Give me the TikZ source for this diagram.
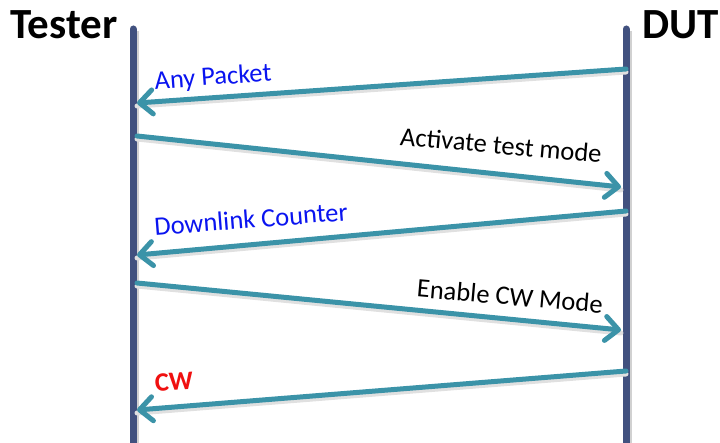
\documentclass[tikz,border=0pt]{standalone}
\usepackage{fontspec}
\setmainfont{Carlito}
\usetikzlibrary{arrows.meta}
\definecolor{lifec}{HTML}{41517F}
\definecolor{msgc}{HTML}{3B93A8}
\definecolor{lblblue}{HTML}{0A14F0}
\definecolor{lblred}{HTML}{F01010}
\tikzset{
  lifeline/.style={draw=lifec, line width=7pt, line cap=round},
  lifeshadow/.style={draw=black!18, line width=7pt},
  msg/.style={draw=msgc, line width=5pt, line cap=round, -{Straight Barb[length=13pt,width=24pt,round]}},
  msgshadow/.style={draw=black!12, line width=5pt, line cap=round},
  actor/.style={font=\bfseries\fontsize{43}{43}\selectfont, text=black, inner sep=0pt},
  lbl/.style={font=\fontsize{26.5}{26.5}\selectfont, inner sep=0pt},
}
\begin{document}
\begin{tikzpicture}[x=1pt,y=-1pt]
\useasboundingbox[fill=white] (0,0) rectangle (720,443);
% lifeline coordinates
\coordinate (T0) at (133,29);
\coordinate (T1) at (133,450);
\coordinate (D0) at (626,29);
\coordinate (D1) at (626,450);
% actors
\node[actor, anchor=base west] (tester) at (10,39) {Tester};
\node[actor, anchor=base east] (dut) at (719,39) {DUT};
% lifeline shadows and lifelines
\draw[lifeshadow] ([xshift=2pt,yshift=-2pt]T0) -- ([xshift=2pt]T1);
\draw[lifeshadow] ([xshift=2pt,yshift=-2pt]D0) -- ([xshift=2pt]D1);
\draw[lifeline] (T0) -- (T1);
\draw[lifeline] (D0) -- (D1);
% message endpoints
\coordinate (m1s) at (626,69);  \coordinate (m1e) at (137,103);
\coordinate (m2s) at (137,136); \coordinate (m2e) at (621,187);
\coordinate (m3s) at (626,211); \coordinate (m3e) at (137,255);
\coordinate (m4s) at (137,283); \coordinate (m4e) at (621,330);
\coordinate (m5s) at (626,371); \coordinate (m5e) at (137,410);
% shadows
\foreach \a/\b in {m1s/m1e,m2s/m2e,m3s/m3e,m4s/m4e,m5s/m5e}
  \draw[msgshadow] ([yshift=-3pt]\a) -- ([yshift=-3pt]\b);
% messages
\draw[msg] (m1s) -- (m1e);
\draw[msg] (m2s) -- (m2e);
\draw[msg] (m3s) -- (m3e);
\draw[msg] (m4s) -- (m4e);
\draw[msg] (m5s) -- (m5e);
% labels
\node[lbl, text=lblblue, rotate=4] (l1) at (213,78) {Any Packet};
\node[lbl, text=black, rotate=-5] (l2) at (501,145) {Activate test mode};
\node[lbl, text=lblblue, rotate=4.5] (l3) at (251,219) {Downlink Counter};
\node[lbl, text=black, rotate=-5] (l4) at (510,296) {Enable CW Mode};
\node[lbl, text=lblred, font=\bfseries\fontsize{26.5}{26.5}\selectfont, rotate=3] (l5) at (174,382) {CW};
\end{tikzpicture}
\end{document}
